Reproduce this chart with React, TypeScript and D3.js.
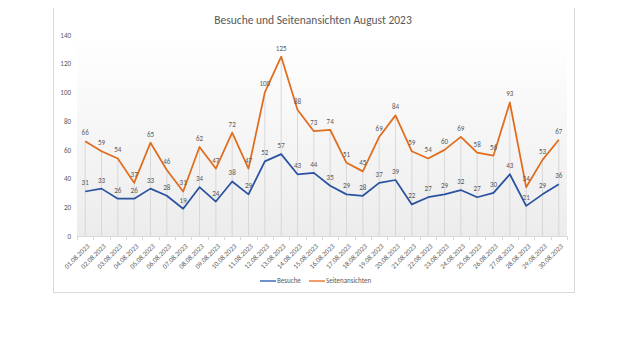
import React, { useEffect, useRef } from 'react';
import * as d3 from 'd3';

// --- Data ---
const days = [
  '01.08.2023', '02.08.2023', '03.08.2023', '04.08.2023', '05.08.2023', '06.08.2023',
  '07.08.2023', '08.08.2023', '09.08.2023', '10.08.2023', '11.08.2023', '12.08.2023',
  '13.08.2023', '14.08.2023', '15.08.2023', '16.08.2023', '17.08.2023', '18.08.2023',
  '19.08.2023', '20.08.2023', '21.08.2023', '22.08.2023', '23.08.2023', '24.08.2023',
  '25.08.2023', '26.08.2023', '27.08.2023', '28.08.2023', '29.08.2023', '30.08.2023'
];
const besuche = [31, 33, 26, 26, 33, 28, 19, 34, 24, 38, 29, 52, 57, 43, 44, 35, 29, 28, 37, 39, 22, 27, 29, 32, 27, 30, 43, 21, 29, 36];
const seitenansichten = [66, 59, 54, 37, 65, 46, 31, 62, 47, 72, 47, 100, 125, 88, 73, 74, 51, 45, 69, 84, 59, 54, 60, 69, 58, 56, 93, 34, 53, 67];
const yTicks = [0, 20, 40, 60, 80, 100, 120, 140];

const seriesList = [
  { name: 'Besuche', values: besuche, color: '#2A52A0', legendColor: '#5B7FC8' },
  { name: 'Seitenansichten', values: seitenansichten, color: '#E06C1C', legendColor: '#EE9050' }
];

const FONT = 'Calibri, Carlito, "Liberation Sans", "Open Sans", sans-serif';
const TEXT = '#595959';

const App = () => {
  const ref = useRef<SVGSVGElement | null>(null);

  useEffect(() => {
    if (!ref.current) return;
    const svg = d3.select(ref.current);
    svg.selectAll('*').remove();

    const plot = { left: 77, right: 567, top: 35, bottom: 236 };

    // chart frame
    svg.append('rect').attr('x', 53.5).attr('y', 7.5).attr('width', 521).attr('height', 285)
      .attr('fill', '#fff').attr('stroke', '#d9d9d9');

    const defs = svg.append('defs');
    const grad = defs.append('linearGradient').attr('id', 'bg').attr('x1', 0).attr('x2', 0).attr('y1', 0).attr('y2', 1);
    grad.append('stop').attr('offset', '0%').attr('stop-color', '#ffffff');
    grad.append('stop').attr('offset', '100%').attr('stop-color', '#ececec');

    svg.append('rect').attr('x', plot.left).attr('y', plot.top)
      .attr('width', plot.right - plot.left).attr('height', plot.bottom - plot.top)
      .attr('fill', 'url(#bg)');

    svg.append('text').attr('x', 313).attr('y', 24).attr('text-anchor', 'middle')
      .attr('font-family', FONT).attr('font-size', 11.5).attr('fill', TEXT)
      .text('Besuche und Seitenansichten August 2023');

    const x = d3.scalePoint<string>().domain(days).range([plot.left, plot.right]).padding(0.5);
    const y = d3.scaleLinear().domain([0, 140]).range([plot.bottom, plot.top]);

    // y-axis labels
    const yAxis = d3.axisLeft(y).tickValues(yTicks).tickSize(0).tickPadding(0);
    const yg = svg.append('g').attr('transform', `translate(${plot.left - 6},0)`).call(yAxis);
    yg.select('.domain').remove();
    yg.selectAll('text').attr('font-family', FONT).attr('font-size', 7).attr('fill', TEXT);

    // baseline and category ticks
    svg.append('line').attr('x1', plot.left).attr('x2', plot.right)
      .attr('y1', plot.bottom + 0.5).attr('y2', plot.bottom + 0.5).attr('stroke', '#d9d9d9');
    const step = x.step();
    d3.range(days.length + 1).forEach(i => {
      const xx = Math.round(plot.left + i * step) + 0.5;
      svg.append('line').attr('x1', xx).attr('x2', xx).attr('y1', plot.bottom).attr('y2', plot.bottom + 4)
        .attr('stroke', '#d9d9d9');
    });

    // drop lines
    svg.append('g').selectAll('line').data(days).enter().append('line')
      .attr('x1', d => x(d)!).attr('x2', d => x(d)!)
      .attr('y1', (d, i) => y(Math.max(besuche[i], seitenansichten[i])))
      .attr('y2', plot.bottom)
      .attr('stroke', '#d0d0d0').attr('stroke-width', 0.75);

    // x labels
    svg.append('g').selectAll('text').data(days).enter().append('text')
      .attr('transform', d => `translate(${x(d)! + 3},${plot.bottom + 9}) rotate(-45)`)
      .attr('text-anchor', 'end').attr('dy', '0.35em')
      .attr('font-family', FONT).attr('font-size', 7).attr('fill', TEXT)
      .text(d => d);

    // lines & labels
    seriesList.forEach(s => {
      const line = d3.line<number>().x((d, i) => x(days[i])!).y(d => y(d));
      svg.append('path').datum(s.values).attr('d', line).attr('fill', 'none')
        .attr('stroke', s.color).attr('stroke-width', 1.75).attr('stroke-linejoin', 'round');
      svg.append('g').selectAll('text').data(s.values).enter().append('text')
        .attr('x', (d, i) => x(days[i])!).attr('y', d => y(d) - 6)
        .attr('text-anchor', 'middle')
        .attr('font-family', FONT).attr('font-size', 7).attr('fill', TEXT)
        .text(d => d);
    });

    // legend
    const legendItems = [
      { s: seriesList[0], x0: 260 },
      { s: seriesList[1], x0: 309 }
    ];
    legendItems.forEach(({ s, x0 }) => {
      svg.append('line').attr('x1', x0).attr('x2', x0 + 16).attr('y1', 281).attr('y2', 281)
        .attr('stroke', s.legendColor).attr('stroke-width', 1.75);
      svg.append('text').attr('x', x0 + 17).attr('y', 281).attr('dy', '0.35em')
        .attr('font-family', FONT).attr('font-size', 7).attr('fill', TEXT).text(s.name);
    });
  }, []);

  return (
    <div style={{ margin: -8, width: 640, height: 360, background: '#fff' }}>
      <svg ref={ref} width={640} height={360} />
    </div>
  );
};

export default App;
